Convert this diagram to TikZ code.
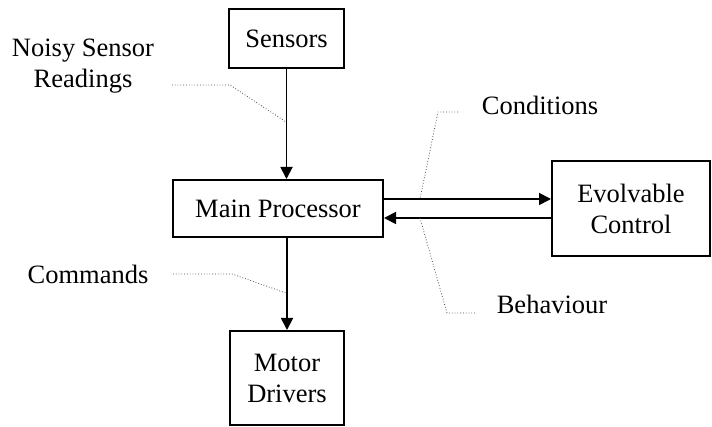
\documentclass[tikz,border=0pt]{standalone}
\usepackage{fontspec}
\setmainfont{Liberation Serif}
\usetikzlibrary{arrows.meta}
\begin{document}
\begin{tikzpicture}[x=1pt,y=-1pt,
  box/.style={draw,line width=2pt,inner sep=0pt,align=center,font=\fontsize{26.5}{31}\selectfont},
  lbl/.style={inner sep=0pt,align=center,font=\fontsize{26.5}{31}\selectfont},
  flow/.style={line width=1.8pt,-{Triangle[length=12pt,width=12pt]}},
  lead/.style={dotted,line width=0.8pt,gray!60!black}]
\useasboundingbox (0,0) rectangle (712,427);
\node[box,minimum width=115pt,minimum height=59pt] (sensors) at (286.5,38.5) {Sensors};
\node[box,minimum width=210pt,minimum height=57pt] (main) at (278,208.5) {Main Processor};
\node[box,minimum width=114pt,minimum height=94pt] (motor) at (287,378) {Motor\\Drivers};
\node[box,minimum width=158pt,minimum height=95pt] (evol) at (631,208.5) {Evolvable\\Control};
\draw[flow] (sensors.south) -- (sensors.south |- main.north);
\draw[flow] (main.south -| motor.north) -- (motor.north);
\draw[flow] ([yshift=9.5pt]main.east) -- ([yshift=9.5pt]evol.west);
\draw[flow] ([yshift=-9.5pt]evol.west) -- ([yshift=-9.5pt]main.east);
\node[lbl] (noisy) at (83,66) {Noisy Sensor\\Readings};
\node[lbl] (cond) at (540,105) {Conditions};
\node[lbl] (beh) at (552,304) {Behaviour};
\node[lbl] (cmd) at (88,274) {Commands};
\coordinate (n1) at (172,85); \coordinate (n2) at (230,85); \coordinate (n3) at (286,122);
\coordinate (c1) at (458,112); \coordinate (c2) at (438,112); \coordinate (c3) at (420,199);
\coordinate (b1) at (475,313); \coordinate (b2) at (447,313); \coordinate (b3) at (420,218);
\coordinate (m1) at (173,274); \coordinate (m2) at (232,274); \coordinate (m3) at (286,293);
\draw[lead] (n1) -- (n2) -- (n3);
\draw[lead] (c1) -- (c2) -- (c3);
\draw[lead] (b1) -- (b2) -- (b3);
\draw[lead] (m1) -- (m2) -- (m3);
\end{tikzpicture}
\end{document}
